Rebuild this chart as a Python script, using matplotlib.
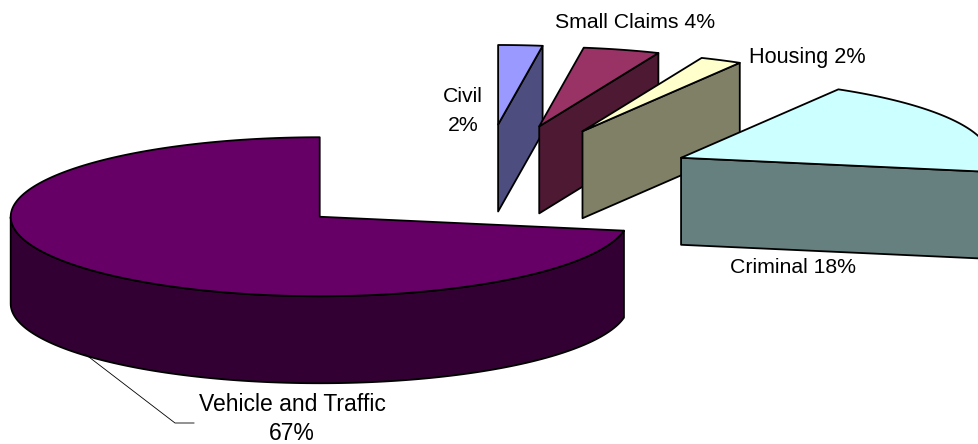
"""
plot.py - exploded 3D style pie of case types, drawn by hand since matplotlib has no 3D pie.
"""
import numpy as np
import matplotlib
matplotlib.use('Agg')
import matplotlib.pyplot as plt

plt.rcParams['font.family'] = ['Liberation Sans', 'DejaVu Sans']

# Slices clockwise from 12 o'clock. Shares are what the drawn angles measure.
categories = ['Civil', 'Small Claims', 'Housing', 'Criminal', 'Vehicle and Traffic']
shares = [2.3, 4.0, 2.2, 19.3, 72.2]
labels_pct = ['2%', '4%', '2%', '18%', '67%']
top_colors = ['#9999FF', '#993366', '#FFFFCC', '#CCFFFF', '#660066']
side_colors = ['#4D4D80', '#4D1933', '#808066', '#668080', '#330033']

# pie geometry in pixels
center_x, center_y = 485.5, 181
rx, ry = 309, 79.5
depth = 87
explode = 0.7
edge = 1.3
# small hand corrections to the exploded position of each slice
nudge_x = [-3, -4, 0, -1, 0]
nudge_y = [-1, -1, 0, 0, 0]


def rim(theta, ox, oy, drop=0):
    return ox + rx * np.sin(theta), oy - ry * np.cos(theta) + drop


fig = plt.figure(figsize=(9.79, 4.44), dpi=100)
ax = fig.add_axes([0, 0, 1, 1])
ax.set_xlim(0, 979)
ax.set_ylim(444, 0)
ax.axis('off')

angles = np.cumsum([0] + shares) / sum(shares) * 2 * np.pi

for i in range(len(shares)):
    start, end = angles[i], angles[i + 1]
    mid = (start + end) / 2
    ox = center_x + explode * rx * np.sin(mid) + nudge_x[i]
    oy = center_y - explode * ry * np.cos(mid) + nudge_y[i]
    theta = np.linspace(start, end, 200)

    # outer wall, only the part facing us
    wall = theta[(theta > np.pi / 2) & (theta < 3 * np.pi / 2)]
    if len(wall):
        x1, y1 = rim(wall, ox, oy)
        x2, y2 = rim(wall[::-1], ox, oy, depth)
        ax.fill(np.r_[x1, x2], np.r_[y1, y2], fc=side_colors[i], ec='black', lw=edge, joinstyle='round')

    # cut face at the end of the slice
    if end < 3 * np.pi / 2:
        ex, ey = rim(end, ox, oy)
        ax.fill([ox, ex, ex, ox], [oy, ey, ey + depth, oy + depth],
                fc=side_colors[i], ec='black', lw=edge, joinstyle='round')

    # top
    x, y = rim(theta, ox, oy)
    ax.fill(np.r_[ox, x], np.r_[oy, y], fc=top_colors[i], ec='black', lw=edge, joinstyle='round')

# leader line for the big slice
ax.plot([85, 175, 194], [354, 423, 423], color='black', lw=0.6)

text_size = 15.3
ax.text(463, 111, categories[0] + '\n' + labels_pct[0], ha='center', va='center', ma='center',
        fontsize=text_size, linespacing=1.65)
ax.text(635, 22, categories[1] + ' ' + labels_pct[1], ha='center', va='center', fontsize=text_size)
ax.text(807, 57, categories[2] + ' ' + labels_pct[2], ha='center', va='center', fontsize=15.6)
ax.text(793, 267, categories[3] + ' ' + labels_pct[3], ha='center', va='center', fontsize=text_size)
ax.text(292, 419, categories[4] + '\n' + labels_pct[4], ha='center', va='center', ma='center',
        fontsize=16.5, linespacing=1.3)

fig.savefig('out.png', dpi=100)
